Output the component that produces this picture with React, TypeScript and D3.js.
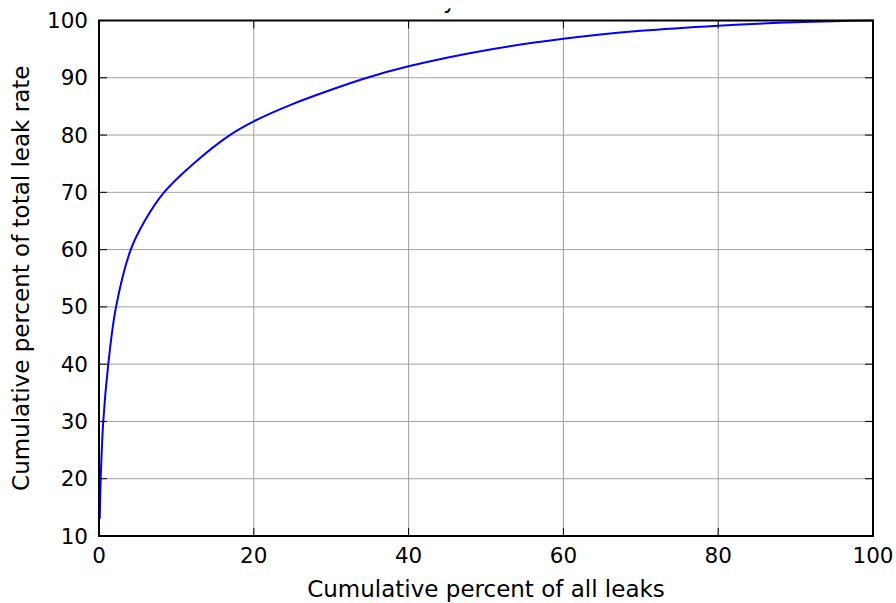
import React, { useEffect, useRef } from 'react';
import * as d3 from 'd3';

// cumulative percent of all leaks (x) vs cumulative percent of total leak rate (y)
const leakPct = [0.1, 0.22, 0.55, 1.2, 2.2, 4.1, 5.9, 8.4, 12.2, 16.9, 20, 25, 30, 34.1, 40, 50, 60, 70, 80, 90, 96, 100];
const ratePct = [13, 20, 30, 40, 50, 60, 65, 70, 75, 80, 82.4, 85.4, 87.9, 89.8, 92.0, 94.8, 96.8, 98.2, 99.1, 99.7, 99.9, 100];
const xTicks = [0, 20, 40, 60, 80, 100];
const yTicks = [10, 20, 30, 40, 50, 60, 70, 80, 90, 100];

const W = 896;
const H = 603;
const FONT = 'DejaVu Sans, sans-serif';

const App = () => {
    const svgRef = useRef<SVGSVGElement>(null);

    useEffect(() => {
        if (!svgRef.current) return;
        const svg = d3.select(svgRef.current);
        svg.selectAll('*').remove();

        const left = 99, right = 873, top = 20.5, bottom = 536;
        const x = d3.scaleLinear().domain([0, 100]).range([left, right]);
        const y = d3.scaleLinear().domain([10, 100]).range([bottom, top]);

        svg.append('rect').attr('width', W).attr('height', H).attr('fill', 'white');

        // grid
        const grid = svg.append('g').attr('stroke', '#a0a0a0').attr('stroke-width', 1);
        xTicks.slice(1, -1).forEach(t => {
            grid.append('line').attr('x1', x(t)).attr('x2', x(t)).attr('y1', top).attr('y2', bottom);
        });
        yTicks.slice(1, -1).forEach(t => {
            grid.append('line').attr('x1', left).attr('x2', right).attr('y1', y(t)).attr('y2', y(t));
        });

        // curve
        const pts = leakPct.map((v, i) => [v, ratePct[i]] as [number, number]);
        const line = d3.line<[number, number]>()
            .x(d => x(d[0]))
            .y(d => y(d[1]))
            .curve(d3.curveCatmullRom.alpha(0.5));
        svg.append('path')
            .attr('d', line(pts))
            .attr('fill', 'none')
            .attr('stroke', '#0000ff')
            .attr('stroke-width', 2);

        // ticks (inward, all four sides)
        const tk = svg.append('g').attr('stroke', '#000').attr('stroke-width', 1);
        const tl = 8;
        xTicks.forEach(t => {
            tk.append('line').attr('x1', x(t)).attr('x2', x(t)).attr('y1', bottom).attr('y2', bottom - tl);
            tk.append('line').attr('x1', x(t)).attr('x2', x(t)).attr('y1', top).attr('y2', top + tl);
        });
        yTicks.forEach(t => {
            tk.append('line').attr('x1', left).attr('x2', left + tl).attr('y1', y(t)).attr('y2', y(t));
            tk.append('line').attr('x1', right).attr('x2', right - tl).attr('y1', y(t)).attr('y2', y(t));
        });

        // frame
        svg.append('rect')
            .attr('x', left).attr('y', top)
            .attr('width', right - left).attr('height', bottom - top)
            .attr('fill', 'none').attr('stroke', '#000').attr('stroke-width', 2);

        // tick labels
        xTicks.forEach(t => {
            svg.append('text')
                .attr('x', x(t)).attr('y', 563)
                .attr('text-anchor', 'middle')
                .attr('font-family', FONT).attr('font-size', 21.5)
                .text(t);
        });
        yTicks.forEach(t => {
            svg.append('text')
                .attr('x', 88).attr('y', y(t) + 7.5)
                .attr('text-anchor', 'end')
                .attr('font-family', FONT).attr('font-size', 21.5)
                .text(t);
        });

        // axis labels
        svg.append('text')
            .attr('x', (left + right) / 2).attr('y', 597)
            .attr('text-anchor', 'middle')
            .attr('font-family', FONT).attr('font-size', 23)
            .text('Cumulative percent of all leaks');
        svg.append('text')
            .attr('transform', `translate(29, ${(top + bottom) / 2}) rotate(-90)`)
            .attr('text-anchor', 'middle')
            .attr('font-family', FONT).attr('font-size', 23)
            .text('Cumulative percent of total leak rate');

        // title, only its descender shows below the top edge
        svg.append('clipPath').attr('id', 'title-clip')
            .append('rect').attr('x', 0).attr('y', 8.5).attr('width', W).attr('height', 20);
        svg.append('text')
            .attr('x', 443).attr('y', 8)
            .attr('clip-path', 'url(#title-clip)')
            .attr('font-family', FONT).attr('font-size', 23)
            .text('y');
    }, []);

    return (
        <div style={{ position: 'absolute', left: 0, top: 0 }}>
            <svg ref={svgRef} width={W} height={H} viewBox={`0 0 ${W} ${H}`} style={{ display: 'block' }} />
        </div>
    );
};

export default App;
